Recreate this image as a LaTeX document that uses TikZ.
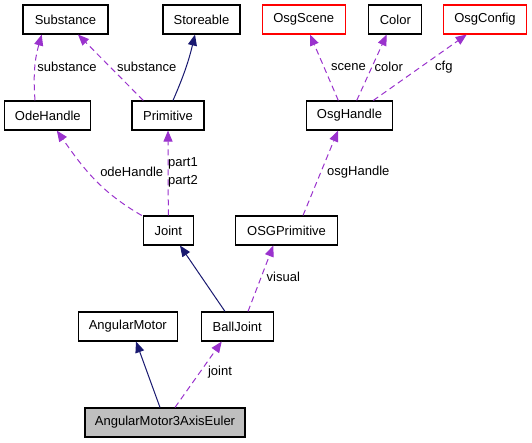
\documentclass[tikz,border=0pt]{standalone}
\usepackage{fontspec}
\setmainfont{Liberation Sans}
\usetikzlibrary{arrows.meta}
\definecolor{usecol}{HTML}{9A32CD}
\definecolor{inhcol}{HTML}{191970}
\definecolor{boxred}{HTML}{FF0000}
\definecolor{boxgray}{HTML}{BFBFBF}
\tikzset{
  cls/.style={draw, line width=1.1pt, minimum height=29pt, inner sep=0pt,
    font=\fontsize{13}{15}\selectfont},
  clsred/.style={cls, draw=boxred},
  clsmain/.style={cls, fill=boxgray},
  usage/.style={draw=usecol, line width=1pt, dash pattern=on 6pt off 4pt,
    -{Triangle[length=11pt, width=9pt, fill=usecol]}},
  inherit/.style={draw=inhcol, line width=1pt,
    -{Triangle[length=11pt, width=9pt, fill=inhcol]}},
  lbl/.style={inner sep=0pt, font=\fontsize{13}{15}\selectfont}
}
\begin{document}
\begin{tikzpicture}[x=1pt, y=-1pt]
			\useasboundingbox (0, 0) rectangle (532, 443);
			% Classes:
			\node[cls, minimum width=85pt](sub) at (65.5, 19.5){Substance};
			\node[cls, minimum width=77pt](sto) at (201.5, 19.5){Storeable};
			\node[clsred, minimum width=83pt](scn) at (303.7, 19.5){OsgScene};
			\node[cls, minimum width=53pt](col) at (395.3, 19.5){Color};
			\node[clsred, minimum width=83pt](cfg) at (485, 19.5){OsgConfig};
			\node[cls, minimum width=86pt](ode) at (47.8, 115.5){OdeHandle};
			\node[cls, minimum width=72pt](prim) at (168, 115.5){Primitive};
			\node[cls, minimum width=86pt](osgh) at (349.5, 115.5){OsgHandle};
			\node[cls, minimum width=50pt](joint) at (168.3, 230.5){Joint};
			\node[cls, minimum width=102pt](osgp) at (286.5, 230.5){OSGPrimitive};
			\node[cls, minimum width=99pt](amot) at (127.8, 326.5){AngularMotor};
			\node[cls, minimum width=72pt](ball) at (237.2, 326.5){BallJoint};
			\node[clsmain, minimum width=160pt](main) at (165, 422.5){AngularMotor3AxisEuler};
			% Connectors:
			\draw[usage] ([xshift=-12.8pt]ode.north) to[bend left=10] ([xshift=-23.8pt]sub.south);
			\draw[usage] ([xshift=-24.7pt]prim.north) -- ([xshift=12.5pt]sub.south);
			\draw[inherit] ([xshift=5pt]prim.north) to[bend right=5] ([xshift=-6.5pt]sto.south);
			\draw[usage] ([xshift=-26.6pt]joint.north) to[out=150, in=-55] ([xshift=9pt]ode.south);
			\draw[usage] (joint.north) -- (prim.south);
			\draw[usage] ([xshift=-11.2pt]osgh.north) -- ([xshift=6.3pt]scn.south);
			\draw[usage] ([xshift=7.2pt]osgh.north) -- ([xshift=-8.6pt]col.south);
			\draw[usage] ([xshift=23.8pt]osgh.north) -- ([xshift=-18.3pt]cfg.south);
			\draw[usage] ([xshift=16.5pt]osgp.north) -- ([xshift=-11.5pt]osgh.south);
			\draw[inherit] ([xshift=-12.2pt]ball.north) -- ([xshift=11.7pt]joint.south);
			\draw[usage] ([xshift=10.8pt]ball.north) -- ([xshift=-13.2pt]osgp.south);
			\draw[inherit] ([xshift=-5pt]main.north) -- ([xshift=8.2pt]amot.south);
			\draw[usage] ([xshift=10pt]main.north) -- ([xshift=-15.5pt]ball.south);
			% Labels:
			\node[lbl](l1) at (67, 66.7){substance};
			\node[lbl](l2) at (146.7, 66.7){substance};
			\node[lbl](l3) at (131.7, 172.3){odeHandle};
			\node[lbl, anchor=west](l4) at (168, 163.3){part1};
			\node[lbl, anchor=west](l5) at (168, 181.7){part2};
			\node[lbl](l6) at (348.5, 66.7){scene};
			\node[lbl](l7) at (388.8, 66.7){color};
			\node[lbl](l8) at (443.8, 66.7){cfg};
			\node[lbl](l9) at (358.3, 172.3){osgHandle};
			\node[lbl](l10) at (283.3, 276.7){visual};
			\node[lbl](l11) at (220, 372.3){joint};
		\end{tikzpicture}
\end{document}
